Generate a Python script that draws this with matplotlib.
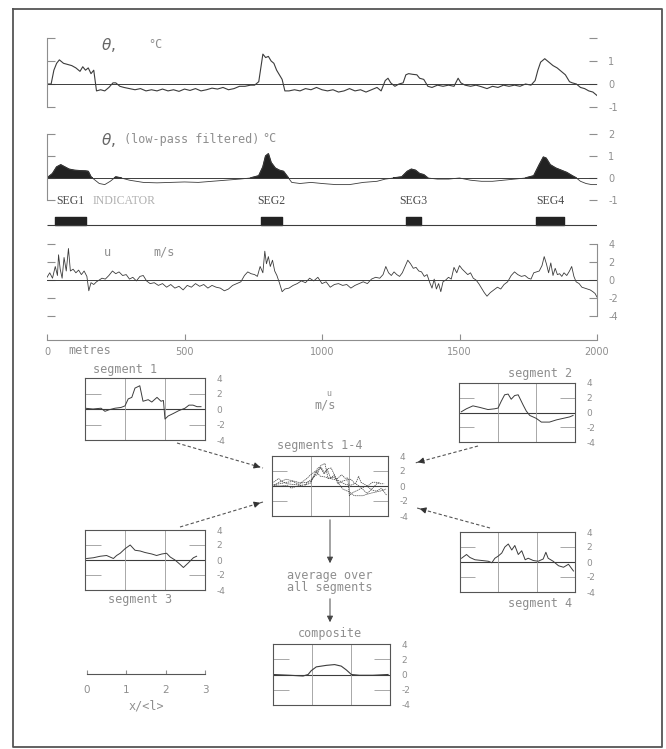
import numpy as np
import matplotlib.pyplot as plt

W, H = 666, 749

# temperature record along the track (metres, degC)
theta_m = [0, 15, 25, 35, 45, 60, 75, 90, 105, 120,
           130, 140, 150, 160, 170, 180, 195, 210, 225, 240,
           250, 265, 280, 300, 320, 340, 360, 380, 400, 420,
           440, 460, 480, 500, 520, 540, 560, 580, 600, 620,
           640, 660, 680, 700, 720, 740, 755, 770, 785, 795,
           805, 815, 825, 835, 845, 855, 865, 880, 900, 920,
           940, 960, 980, 1000, 1020, 1040, 1060, 1080, 1100, 1120,
           1140, 1160, 1180, 1200, 1215, 1230, 1240, 1250, 1265, 1280,
           1295, 1305, 1315, 1330, 1345, 1355, 1370, 1385, 1400, 1420,
           1440, 1460, 1480, 1495, 1505, 1520, 1540, 1560, 1580, 1600,
           1620, 1640, 1660, 1680, 1700, 1720, 1740, 1760, 1775, 1785,
           1795, 1810, 1825, 1840, 1855, 1870, 1885, 1900, 1910, 1925,
           1940, 1955, 1970, 1985, 2000]
theta = [0.0, 0.0, 0.6, 0.9, 1.05, 0.9, 0.85, 0.8, 0.7, 0.55,
         0.75, 0.6, 0.7, 0.45, 0.6, -0.3, -0.25, -0.3, -0.15, 0.05,
         0.05, -0.1, -0.15, -0.2, -0.25, -0.2, -0.3, -0.25, -0.3, -0.22,
         -0.3, -0.25, -0.32, -0.22, -0.28, -0.2, -0.3, -0.25, -0.18, -0.22,
         -0.15, -0.25, -0.2, -0.1, -0.1, -0.05, -0.05, 0.1, 1.3, 1.15,
         1.2, 1.0, 0.9, 0.6, 0.4, 0.2, -0.3, -0.3, -0.25, -0.3,
         -0.2, -0.25, -0.15, -0.25, -0.3, -0.25, -0.35, -0.3, -0.2, -0.3,
         -0.25, -0.35, -0.25, -0.15, -0.3, 0.15, 0.25, 0.05, -0.1, 0.0,
         0.05, 0.4, 0.45, 0.42, 0.4, 0.25, 0.2, -0.1, -0.15, -0.05,
         -0.1, -0.05, -0.1, 0.25, 0.05, -0.05, -0.1, -0.05, -0.12, -0.2,
         -0.1, -0.15, -0.05, -0.1, -0.05, -0.1, 0.0, -0.05, 0.15, 0.6,
         0.95, 1.1, 0.95, 0.8, 0.7, 0.55, 0.4, 0.1, 0.05, 0.0,
         -0.15, -0.2, -0.3, -0.35, -0.5]

# low-pass filtered temperature
lp_m = [0, 20, 35, 50, 65, 80, 100, 120, 140, 150,
        160, 175, 190, 210, 230, 250, 270, 300, 350, 400,
        450, 500, 550, 600, 650, 700, 740, 770, 785, 795,
        805, 815, 830, 845, 860, 875, 890, 920, 960, 1000,
        1050, 1100, 1150, 1200, 1230, 1260, 1290, 1310, 1325, 1340,
        1355, 1370, 1385, 1420, 1460, 1500, 1540, 1580, 1620, 1660,
        1700, 1740, 1770, 1790, 1805, 1815, 1830, 1850, 1870, 1890,
        1910, 1925, 1940, 1960, 1980, 2000]
theta_lp = [0.0, 0.2, 0.5, 0.6, 0.5, 0.4, 0.35, 0.33, 0.32, 0.3,
            0.05, -0.1, -0.25, -0.3, -0.15, 0.05, 0.0, -0.1, -0.2, -0.22,
            -0.2, -0.18, -0.2, -0.15, -0.1, -0.05, 0.0, 0.1, 0.5, 1.0,
            1.1, 0.7, 0.45, 0.35, 0.3, 0.05, -0.2, -0.25, -0.2, -0.25,
            -0.3, -0.3, -0.2, -0.15, -0.05, 0.0, 0.05, 0.3, 0.4, 0.35,
            0.2, 0.15, 0.0, -0.05, -0.05, 0.0, -0.1, -0.15, -0.15, -0.1,
            -0.05, 0.0, 0.1, 0.6, 0.95, 0.9, 0.6, 0.45, 0.35, 0.25,
            0.1, 0.0, -0.15, -0.25, -0.3, -0.3]

# segment indicator (start, length in metres)
seg_names = ['SEG1', 'SEG2', 'SEG3', 'SEG4']
seg_start = [29, 779, 1306, 1779]
seg_len = [114, 74, 54, 102]

# velocity u (m/s)
u_m = [0, 10, 20, 30, 38, 42, 48, 55, 62, 70,
       78, 85, 95, 105, 115, 125, 135, 145, 152, 160,
       170, 180, 190, 200, 212, 225, 238, 250, 262, 275,
       288, 300, 312, 325, 338, 350, 362, 375, 390, 405,
       420, 435, 450, 465, 480, 495, 510, 525, 540, 555,
       570, 585, 600, 615, 630, 645, 660, 675, 690, 705,
       718, 730, 742, 755, 765, 775, 785, 792, 798, 805,
       812, 820, 828, 836, 845, 855, 865, 880, 895, 910,
       925, 940, 955, 970, 985, 1000, 1015, 1030, 1045, 1060,
       1075, 1090, 1105, 1120, 1135, 1150, 1165, 1180, 1195, 1210,
       1222, 1232, 1242, 1252, 1262, 1272, 1282, 1292, 1302, 1312,
       1322, 1332, 1342, 1352, 1362, 1372, 1382, 1392, 1400, 1408,
       1416, 1424, 1432, 1440, 1450, 1460, 1470, 1480, 1490, 1500,
       1510, 1520, 1530, 1540, 1550, 1560, 1570, 1580, 1590, 1600,
       1612, 1625, 1638, 1650, 1662, 1675, 1688, 1700, 1712, 1725,
       1738, 1750, 1760, 1770, 1780, 1790, 1800, 1808, 1816, 1824,
       1832, 1840, 1848, 1856, 1864, 1872, 1880, 1890, 1900, 1908,
       1916, 1924, 1935, 1945, 1955, 1965, 1975, 1985, 1993, 2000]
u = [0.3, 0.8, 0.2, 1.5, 0.5, 2.8, 1.2, 0.2, 2.5, 1.0,
     3.5, 1.0, 1.2, 0.8, 1.1, 0.6, 1.0, 0.4, -1.2, -0.3,
     -0.5, -0.2, 0.0, 0.2, 0.1, 0.5, 1.0, 0.7, 0.9, 0.5,
     0.6, 0.1, 0.3, -0.1, 0.4, 0.5, -0.1, -0.4, -0.3, -0.6,
     -0.4, -0.8, -0.5, -0.9, -0.7, -1.1, -0.6, -0.8, -0.4, -0.7,
     -0.5, -0.9, -0.6, -0.8, -0.9, -1.2, -1.0, -0.6, -0.4, -0.2,
     0.5, 0.9, 0.7, 0.6, 0.4, 1.5, 0.8, 3.2, 1.8, 2.6,
     1.5, 2.2, 1.0, 0.5, -0.3, -1.3, -1.0, -0.9, -0.6, -0.4,
     -0.1, -0.3, 0.2, -0.1, 0.3, -0.4, -0.2, -0.8, -0.5, -0.4,
     -0.6, -0.5, -0.9, -0.6, -0.4, -0.2, -0.4, 0.1, 0.3, 0.2,
     0.6, 1.5, 0.8, 0.5, 0.9, 0.6, 0.4, 0.8, 1.5, 2.2,
     1.8, 1.3, 1.4, 1.0, 0.9, 0.4, 0.6, -0.3, -0.9, 0.1,
     -1.0, -0.4, -1.3, -0.2, 0.0, 0.3, 0.1, 1.4, 0.8, 1.6,
     1.2, 0.9, 0.6, 0.8, 0.2, 0.0, -0.4, -0.9, -1.4, -1.8,
     -1.4, -1.1, -0.8, -1.0, -0.5, -0.2, 0.5, 0.9, 0.6, 0.4,
     0.5, 0.2, 0.1, 0.8, 0.9, 1.0, 1.6, 2.6, 1.8, 0.8,
     1.9, 0.5, 1.3, 0.6, 0.7, 0.4, 0.8, 0.5, 1.0, 1.5,
     0.4, -0.2, -0.4, -0.8, -0.9, -1.0, -1.1, -1.3, -1.5, -1.9]

# u in each segment, x in units of <l>
seg1_x = [0.0, 0.2, 0.4, 0.5, 0.6, 0.75, 0.9, 1.0, 1.08, 1.17,
          1.25, 1.37, 1.45, 1.58, 1.67, 1.8, 1.9, 1.96, 2.0, 2.08,
          2.2, 2.35, 2.5, 2.6, 2.7, 2.8, 2.9]
seg1_u = [0.1, 0.0, 0.1, -0.3, -0.1, 0.1, 0.2, 0.4, 1.3, 1.5,
          2.7, 3.0, 1.0, 1.2, 0.9, 1.5, 1.0, 1.1, -1.3, -0.9,
          -0.6, -0.2, 0.1, 0.5, 0.5, 0.3, 0.3]
seg2_x = [0.06, 0.19, 0.36, 0.53, 0.75, 0.92, 1.01, 1.09, 1.18, 1.27,
          1.35, 1.44, 1.53, 1.66, 1.74, 1.83, 2.0, 2.13, 2.34, 2.52,
          2.69, 2.86, 2.95]
seg2_u = [0.1, 0.5, 0.9, 0.7, 0.4, 0.5, 0.6, 1.5, 2.4, 2.5,
          1.8, 2.3, 2.4, 1.0, 0.2, -0.4, -0.8, -1.3, -1.3, -1.0,
          -0.8, -0.6, -0.4]
seg3_x = [0.04, 0.21, 0.38, 0.54, 0.71, 0.79, 0.88, 1.0, 1.13, 1.25,
          1.38, 1.5, 1.67, 1.79, 1.92, 2.04, 2.13, 2.25, 2.38, 2.46,
          2.58, 2.71, 2.79]
seg3_u = [0.2, 0.3, 0.5, 0.6, 0.2, 0.6, 0.9, 1.5, 2.0, 1.3,
          1.2, 1.0, 0.8, 0.6, 0.8, 0.9, 0.4, 0.0, -0.6, -1.0,
          -0.4, 0.3, 0.5]
seg4_x = [0.04, 0.17, 0.26, 0.39, 0.57, 0.74, 0.83, 0.91, 1.0, 1.09,
          1.17, 1.26, 1.35, 1.43, 1.52, 1.61, 1.7, 1.78, 1.91, 2.04,
          2.17, 2.24, 2.3, 2.43, 2.57, 2.7, 2.83, 2.96]
seg4_u = [0.5, 1.0, 0.6, 0.3, 0.2, 0.1, -0.1, 0.5, 0.8, 1.2,
          2.0, 2.4, 1.6, 2.2, 1.0, 1.5, 0.3, 0.5, 0.2, 0.1,
          0.4, 1.3, 0.5, 0.1, -0.5, -0.7, -0.3, -1.2]
comp_x = [0.0, 0.43, 0.77, 0.9, 0.98, 1.11, 1.37, 1.58, 1.75, 1.88,
          2.01, 2.22, 2.56, 2.95]
comp_u = [0.0, -0.1, -0.2, 0.0, 0.5, 1.0, 1.2, 1.3, 1.1, 0.6,
          0.0, -0.1, -0.1, 0.0]

dist_ticks = [0, 500, 1000, 1500, 2000]
small_ticks = [-4, -2, 0, 2, 4]

INK = '#3c3c3c'
GREY = '#8e8e8e'
MONO = 'DejaVu Sans Mono'
SERIF = 'Liberation Serif'

fig = plt.figure(figsize=(W / 100, H / 100), dpi=100)


def px_axes(x0, y0, x1, y1):
    ax = fig.add_axes([x0 / W, 1 - y1 / H, (x1 - x0) / W, (y1 - y0) / H])
    ax.patch.set_visible(False)
    return ax


# full-page layer for frame, arrows and loose labels (pixel units)
ov = px_axes(0, 0, W, H)
ov.set_xlim(0, W)
ov.set_ylim(H, 0)
ov.axis('off')
ov.plot([13, 662, 662, 13, 13], [9, 9, 747, 747, 9], color='#555555', lw=1.3)


def strip(y0, y1, lo, hi, ticks, labels, left_spine=True, right_spine=False):
    ax = px_axes(47, y0, 597, y1)
    ax.set_xlim(0, 2000)
    ax.set_ylim(lo, hi)
    ax.spines['top'].set_visible(False)
    ax.spines['bottom'].set_visible(False)
    ax.spines['left'].set_visible(left_spine)
    ax.spines['right'].set_visible(right_spine)
    for s in ('left', 'right'):
        ax.spines[s].set_color(GREY)
        ax.spines[s].set_linewidth(0.8)
    ax.set_xticks([])
    ax.set_yticks(ticks)
    ax.set_yticklabels(labels)
    ax.tick_params(axis='y', left=True, right=True, labelleft=False, labelright=True,
                   direction='in', length=6, width=0.8, colors=GREY, labelsize=7, pad=8)
    ax.axhline(0, color=INK, lw=0.7)
    return ax


# temperature
ax1 = strip(38, 107, -1, 2, [-1, 0, 1, 2], ['-1', '0', '1', ''])
ax1.plot(theta_m, theta, color=INK, lw=0.8)

# low-pass temperature with warm parts filled
ax2 = strip(134, 200, -1, 2, [-1, 0, 1, 2], ['-1', '0', '1', '2'])
lp_x = np.array(lp_m)
lp_y = np.array(theta_lp)
ax2.plot(lp_x, lp_y, color=INK, lw=0.6)
ax2.fill_between(lp_x, lp_y, 0, where=lp_y > 0, interpolate=True, color='#222222')

# indicator
axi = px_axes(47, 214, 597, 228)
axi.set_xlim(0, 2000)
axi.set_ylim(0, 1)
axi.axis('off')
axi.hlines(0.2, 0, 2000, color=INK, lw=0.8)
axi.broken_barh(list(zip(seg_start, seg_len)), (0.2, 0.6), color='#222222')
for name, s0, ln in zip(seg_names, seg_start, seg_len):
    axi.text(s0 + ln / 2, 1.95, name, ha='center', va='center', fontsize=8.5,
             family=SERIF, color='#4a4a4a')
axi.text(165, 1.95, 'INDICATOR', ha='left', va='center', fontsize=8.5,
         family=SERIF, color='#b0b0b0')

# velocity
ax3 = strip(244, 316, -4, 4, small_ticks, ['-4', '-2', '0', '2', '4'],
            left_spine=False, right_spine=True)
ax3.plot(u_m, u, color=INK, lw=0.6)

# distance axis
axd = px_axes(47, 320, 597, 340)
axd.set_xlim(0, 2000)
for s in ('top', 'left', 'right'):
    axd.spines[s].set_visible(False)
axd.spines['bottom'].set_color(GREY)
axd.set_yticks([])
axd.set_xticks(dist_ticks)
axd.set_xticklabels([str(t) for t in dist_ticks])
axd.tick_params(axis='x', direction='in', length=4, colors=GREY, labelsize=7, pad=5)

# labels of the strips
txt = dict(color=GREY, family=MONO, fontsize=8.5, va='center')
ov.text(101, 45, r'$\theta$,', color='#666666', fontsize=11, va='center')
ov.text(148, 44, '°C', **txt)
ov.text(101, 140, r'$\theta$,', color='#666666', fontsize=11, va='center')
ov.text(124, 140, '(low-pass filtered)', **txt)
ov.text(262, 139, '°C', **txt)
ov.text(104, 252, 'u', **txt)
ov.text(153, 252, 'm/s', **txt)
ov.text(68, 350, 'metres', **txt)


def small_box(x0, y0, x1, y1):
    ax = px_axes(x0, y0, x1, y1)
    ax.set_xlim(0, 3)
    ax.set_ylim(-4, 4)
    for s in ax.spines.values():
        s.set_color('#555555')
        s.set_linewidth(0.8)
    ax.set_xticks([])
    ax.yaxis.tick_right()
    ax.set_yticks(small_ticks)
    ax.set_yticklabels([str(t) for t in small_ticks])
    ax.tick_params(axis='y', length=0, pad=8, labelsize=6.5, labelcolor=GREY)
    ax.axhline(0, color=INK, lw=0.8)
    ax.vlines([1, 2], -4, 4, color='#9a9a9a', lw=0.6)
    ax.hlines([2, -2], 0, 0.4, color='#9a9a9a', lw=0.6)
    ax.hlines([2, -2], 2.6, 3, color='#9a9a9a', lw=0.6)
    return ax


segs = [(seg1_x, seg1_u), (seg2_x, seg2_u), (seg3_x, seg3_u), (seg4_x, seg4_u)]
boxes = [(85, 378, 205, 440), (459, 383, 575, 442), (85, 530, 205, 590), (460, 532, 575, 592)]
for (sx, su), b in zip(segs, boxes):
    small_box(*b).plot(sx, su, color=INK, lw=0.7)

axc = small_box(272, 456, 388, 516)
for sx, su in segs:
    axc.plot(sx, su, color=INK, lw=0.5, ls=(0, (2, 1)))

axk = small_box(273, 644, 390, 705)
axk.plot(comp_x, comp_u, color=INK, lw=0.8)

ov.text(125, 369, 'segment 1', ha='center', **txt)
ov.text(540, 373, 'segment 2', ha='center', **txt)
ov.text(320, 446, 'segments 1-4', ha='center', **txt)
ov.text(140, 599, 'segment 3', ha='center', **txt)
ov.text(540, 603, 'segment 4', ha='center', **txt)
ov.text(330, 634, 'composite', ha='center', **txt)
ov.text(330, 575, 'average over', ha='center', **txt)
ov.text(330, 587, 'all segments', ha='center', **txt)
ov.text(325, 405, 'm/s', ha='center', **txt)
ov.text(329, 394, 'u', ha='center', color=GREY, family=MONO, fontsize=6, va='center')

# dashed arrows into the overlay box
arrows = [((177, 443), (263, 468)), ((478, 446), (415, 463)),
          ((180, 527), (263, 502)), ((490, 528), (417, 508))]
for (sx, sy), (tx, ty) in arrows:
    ov.plot([sx, tx], [sy, ty], color='#555555', lw=0.8, ls=(0, (3, 2)))
    ov.annotate('', xy=(tx, ty), xytext=(tx + (sx - tx) * 0.12, ty + (sy - ty) * 0.12),
                arrowprops=dict(arrowstyle='-|>', color='#333333', lw=0.8, mutation_scale=9))

for y_from, y_to in [(517, 566), (596, 625)]:
    ov.annotate('', xy=(330, y_to), xytext=(330, y_from),
                arrowprops=dict(arrowstyle='-|>', color='#444444', lw=0.7, mutation_scale=9))

# length scale
axs = px_axes(87, 664, 205, 674)
axs.set_xlim(0, 3)
for s in ('top', 'left', 'right'):
    axs.spines[s].set_visible(False)
axs.spines['bottom'].set_color('#555555')
axs.set_yticks([])
axs.set_xticks([0, 1, 2, 3])
axs.tick_params(axis='x', direction='in', length=3, colors=GREY, labelsize=7.5, pad=8)
axs.set_xlabel('x/<l>', color=GREY, family=MONO, fontsize=8.5, labelpad=3)

fig.savefig('out.png', dpi=100)
